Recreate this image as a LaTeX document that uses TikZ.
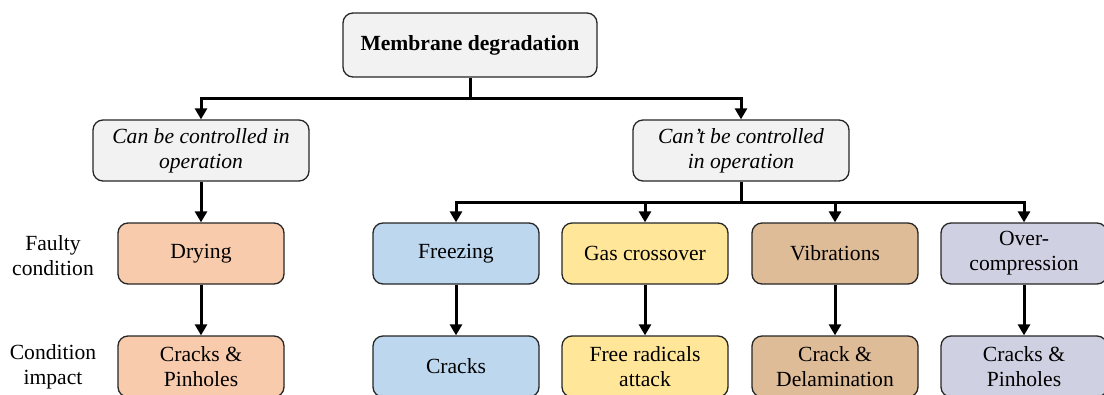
\documentclass[tikz,border=0pt]{standalone}
\usepackage{fontspec}
\setmainfont{LiberationSerif}[Extension=.ttf, UprightFont=*-Regular, BoldFont=*-Bold, ItalicFont=*-Italic, BoldItalicFont=*-BoldItalic]
\usetikzlibrary{arrows.meta}
\definecolor{boxgray}{HTML}{F2F2F2}
\definecolor{drypeach}{HTML}{F8CBAD}
\definecolor{freezeblue}{HTML}{BDD7EE}
\definecolor{gasyellow}{HTML}{FFE699}
\definecolor{vibtan}{HTML}{DFBC98}
\definecolor{compgray}{HTML}{D0D0E3}
\definecolor{edgegray}{HTML}{262626}
\tikzset{
  basebox/.style={draw=edgegray, line width=1.3pt, rounded corners=10pt,
    align=center, inner sep=2pt,
    font=\fontsize{21.6}{25}\selectfont},
  headbox/.style={basebox, fill=boxgray, minimum width=254pt, minimum height=64pt,
    font=\fontsize{21.6}{25}\selectfont\bfseries},
  groupbox/.style={basebox, fill=boxgray, minimum width=216pt, minimum height=61pt,
    font=\fontsize{21.6}{25}\selectfont\itshape},
  itembox/.style={basebox, minimum width=166pt, minimum height=61pt},
  rowlabel/.style={align=center, font=\fontsize{21.6}{25}\selectfont},
  conn/.style={line width=3pt, black},
  arr/.style={conn, -{Triangle[length=11pt,width=12pt]}}
}
\begin{document}
\begin{tikzpicture}[x=1pt,y=-1pt]
\clip (0,0) rectangle (1104,394);
\fill[white] (0,0) rectangle (1104,394);

% root and the two groups
\node[headbox] (root) at (470,45) {Membrane degradation};
\node[groupbox] (ctrl) at (201,150.5) {Can be controlled in\\operation};
\node[groupbox] (nctrl) at (741,150.5) {Can’t be controlled\\in operation};

% faulty conditions
\node[itembox, fill=drypeach] (dry) at (201,253.5) {Drying};
\node[itembox, fill=freezeblue] (frz) at (456,253.5) {Freezing};
\node[itembox, fill=gasyellow] (gas) at (645,253.5) {Gas crossover};
\node[itembox, fill=vibtan] (vib) at (835,253.5) {Vibrations};
\node[itembox, fill=compgray] (ovc) at (1024,253.5) {Over-\\compression};

% condition impacts
\node[itembox, fill=drypeach] (dryi) at (201,366.5) {Cracks \&\\Pinholes};
\node[itembox, fill=freezeblue] (frzi) at (456,366.5) {Cracks};
\node[itembox, fill=gasyellow] (gasi) at (645,366.5) {Free radicals\\attack};
\node[itembox, fill=vibtan] (vibi) at (835,366.5) {Crack \&\\Delamination};
\node[itembox, fill=compgray] (ovci) at (1024,366.5) {Cracks \&\\Pinholes};

% row labels
\node[rowlabel] (lfault) at (53,256) {Faulty\\condition};
\node[rowlabel] (limpact) at (53,367) {Condition\\impact};

% connectors
\coordinate (j1) at (470,98);
\coordinate (j2) at (741,202);
\draw[conn] (root.south) -- (j1);
\draw[arr] (j1) -| (ctrl.north);
\draw[arr] (j1) -| (nctrl.north);
\draw[arr] (ctrl.south) -- (dry.north);
\draw[conn] (nctrl.south) -- (j2);
\draw[arr] (j2) -| (frz.north);
\draw[arr] (j2) -| (gas.north);
\draw[arr] (j2) -| (vib.north);
\draw[arr] (j2) -| (ovc.north);
\draw[arr] (dry.south) -- (dryi.north);
\draw[arr] (frz.south) -- (frzi.north);
\draw[arr] (gas.south) -- (gasi.north);
\draw[arr] (vib.south) -- (vibi.north);
\draw[arr] (ovc.south) -- (ovci.north);
\end{tikzpicture}
\end{document}
